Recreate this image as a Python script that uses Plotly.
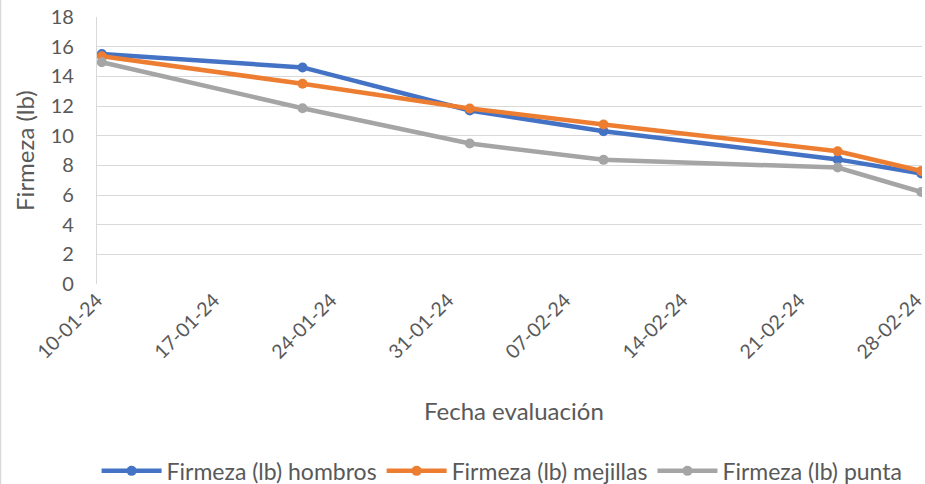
import plotly.graph_objects as go

fechas = ["2024-01-10", "2024-01-22", "2024-02-01", "2024-02-09", "2024-02-23", "2024-02-28"]
hombros = [15.5, 14.6, 11.7, 10.3, 8.4, 7.45]
mejillas = [15.35, 13.5, 11.83, 10.75, 8.95, 7.62]
punta = [14.95, 11.85, 9.47, 8.37, 7.85, 6.2]

tick_fechas = ["2024-01-10", "2024-01-17", "2024-01-24", "2024-01-31",
               "2024-02-07", "2024-02-14", "2024-02-21", "2024-02-28"]
tick_textos = ["10-01-24", "17-01-24", "24-01-24", "31-01-24",
               "07-02-24", "14-02-24", "21-02-24", "28-02-24"]

series = [
    ("Firmeza (lb) hombros", hombros, "#4472C4"),
    ("Firmeza (lb) mejillas", mejillas, "#ED7D31"),
    ("Firmeza (lb) punta", punta, "#A5A5A5"),
]

FONT = "Lato, 'Noto Sans', sans-serif"
GREY = "#595959"
fig = go.Figure()
for name, vals, col in series:
    fig.add_trace(go.Scatter(
        x=fechas, y=vals, name=name, mode="lines+markers",
        line=dict(color=col, width=4.5),
        marker=dict(color=col, size=10),
    ))

fig.update_layout(
    width=925, height=484,
    margin=dict(l=97, r=3, t=17, b=200, autoexpand=False),
    paper_bgcolor="white", plot_bgcolor="white",
    font=dict(family=FONT, size=18, color=GREY),
    showlegend=True,
    legend=dict(orientation="h", x=0.491, xanchor="center", y=-0.70, yanchor="middle",
                font=dict(size=23, color=GREY), itemwidth=60, tracegroupgap=0),
    xaxis=dict(
        type="date",
        range=["2024-01-09 17:00", "2024-02-28 01:00"],
        tickmode="array", tickvals=tick_fechas, ticktext=tick_textos,
        tickangle=-45, showgrid=False, zeroline=False, showline=False,
        tickfont=dict(size=19.5, color=GREY), automargin=False,
        ticklabeloverflow="allow", ticklabelshift=-5,
    ),
    yaxis=dict(
        range=[0, 18], dtick=2, showgrid=True, gridcolor="#D9D9D9", gridwidth=1.3,
        zeroline=False, showline=True, linecolor="#D9D9D9", linewidth=1.3,
        tickfont=dict(size=20, color=GREY), ticklen=0, ticklabelstandoff=18,
        automargin=False,
    ),
    annotations=[
        dict(text="Fecha evaluación", xref="paper", yref="paper", x=0.5055, y=-0.472,
             xanchor="center", yanchor="middle", showarrow=False,
             font=dict(size=24, color=GREY)),
        dict(text="Firmeza (lb)", xref="paper", yref="paper", x=-0.088, y=0.5,
             xanchor="center", yanchor="middle", showarrow=False, textangle=-90,
             font=dict(size=24, color=GREY)),
    ],
    shapes=[
        dict(type="line", xref="paper", yref="paper", x0=-0.1170, x1=-0.1170, y0=-0.75, y1=1.07,
             line=dict(color="#D9D9D9", width=1.5)),
    ],
)

post = (
    "document.documentElement.style.margin='0';"
    "document.documentElement.style.overflow='hidden';"
    "document.body.style.margin='0';"
    "document.body.style.padding='0';"
    "document.body.style.overflow='hidden';"
)
fig.write_html("out.html", config={"displayModeBar": False}, post_script=post)
